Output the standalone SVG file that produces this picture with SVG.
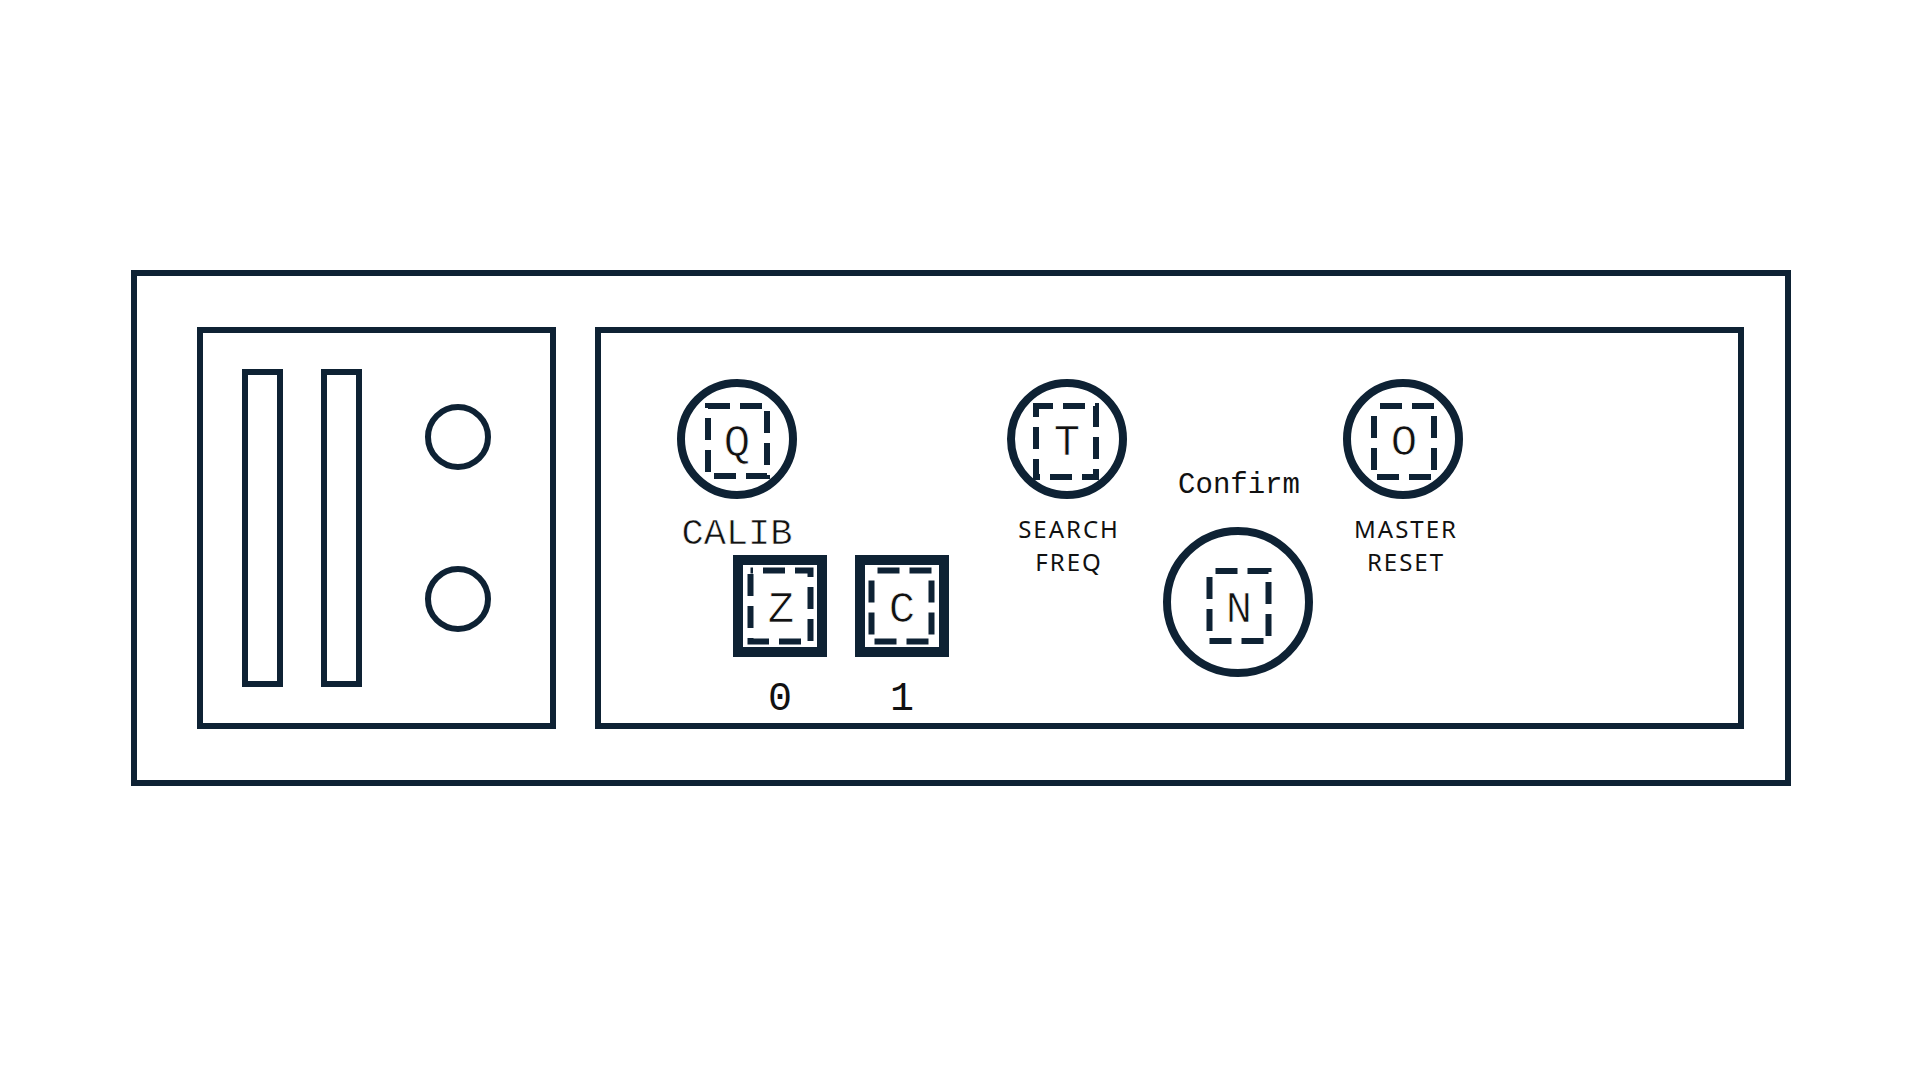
<svg xmlns="http://www.w3.org/2000/svg" width="1920" height="1080" viewBox="0 0 1920 1080">
<style>
.frame{fill:none;stroke:#0e2234;stroke-width:6}
.ring{fill:#fff;stroke:#0e2234;stroke-width:8}
.dash{fill:none;stroke:#0e2234;stroke-width:6;stroke-dasharray:22 10}
.key{fill:#fff;stroke:#0e2234;stroke-width:10}
.glyph{font-family:"Liberation Mono",monospace;font-size:44px;fill:#111;stroke:#fff;stroke-width:0.7;text-anchor:middle}
.mono{font-family:"Liberation Mono",monospace;fill:#111;text-anchor:middle}
.thin{stroke:#fff;stroke-width:0.6}
.lbl{font-family:"Noto Sans",sans-serif;font-size:24px;letter-spacing:2px;fill:#111;text-anchor:middle}
</style>
<rect width="1920" height="1080" fill="#fff"/>
<g id="chassis">
<rect class="frame" x="134" y="273" width="1654" height="510"/>
</g>
<g id="left-panel">
<rect class="frame" x="200" y="330" width="353" height="396"/>
<rect class="frame" x="245" y="372" width="35" height="312"/>
<rect class="frame" x="324" y="372" width="35" height="312"/>
<circle class="frame" cx="458" cy="437" r="30"/>
<circle class="frame" cx="458" cy="599" r="30"/>
</g>
<g id="right-panel">
<rect class="frame" x="598" y="330" width="1143" height="396"/>
</g>
<g id="btn-calib">
<circle class="ring" cx="737" cy="439" r="56"/>
<rect class="dash" x="708" y="406" width="59" height="70"/>
<text class="glyph" x="737" y="455">Q</text>
<text class="mono thin" x="737" y="544" font-size="37">CALIB</text>
</g>
<g id="key-zero">
<rect class="key" x="738" y="560" width="84" height="92"/>
<rect class="dash" x="750.5" y="570.5" width="60" height="71" stroke-dashoffset="19.5"/>
<text class="glyph" x="781" y="622">Z</text>
<text class="mono" x="780" y="710" font-size="40">0</text>
</g>
<g id="key-one">
<rect class="key" x="860" y="560" width="84" height="92"/>
<rect class="dash" x="871.5" y="570.5" width="60" height="71" stroke-dashoffset="26"/>
<text class="glyph" x="902" y="622">C</text>
<text class="mono" x="902" y="710" font-size="40">1</text>
</g>
<g id="btn-search">
<circle class="ring" cx="1067" cy="439" r="56"/>
<rect class="dash" x="1036" y="406" width="60" height="71" stroke-dashoffset="5"/>
<text class="glyph" x="1067" y="455">T</text>
<text class="lbl" x="1069" y="538">SEARCH</text>
<text class="lbl" x="1069" y="571">FREQ</text>
</g>
<g id="btn-confirm">
<text class="mono" x="1239" y="493" font-size="29">Confirm</text>
<circle class="ring" cx="1238" cy="602" r="71"/>
<rect class="dash" x="1209.5" y="571" width="59" height="70" stroke-dashoffset="26"/>
<text class="glyph" x="1239" y="622">N</text>
</g>
<g id="btn-reset">
<circle class="ring" cx="1403" cy="439" r="56"/>
<rect class="dash" x="1374" y="406" width="60" height="71" stroke-dashoffset="26"/>
<text class="glyph" x="1404" y="455">O</text>
<text class="lbl" x="1406" y="538">MASTER</text>
<text class="lbl" x="1406" y="571">RESET</text>
</g>
<g id="connectors"></g>
</svg>
